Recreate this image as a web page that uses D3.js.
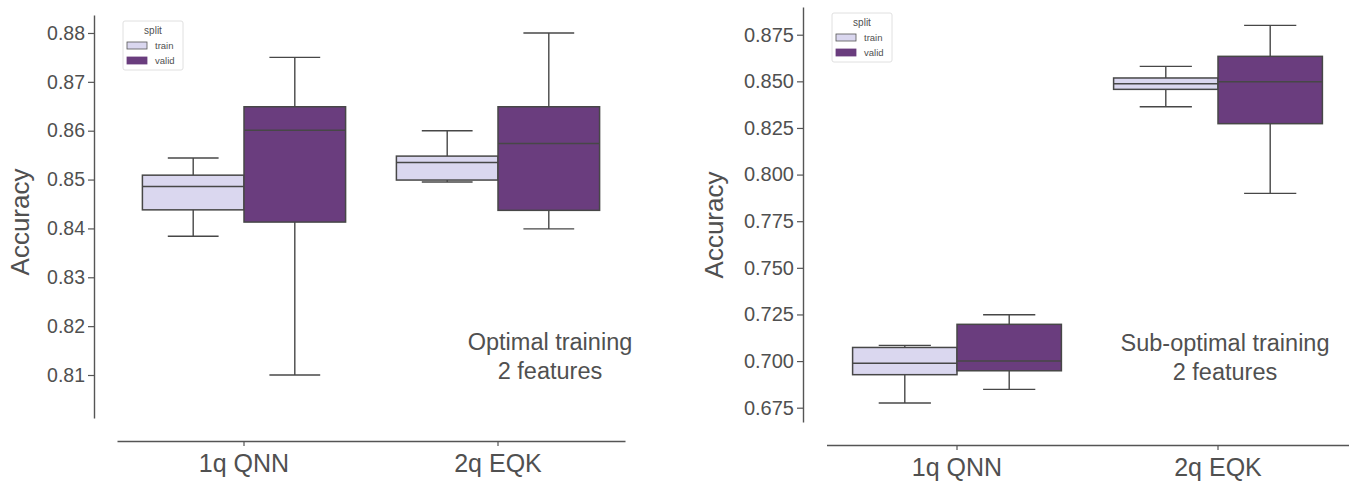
<!DOCTYPE html>
<html>
<head>
<meta charset="utf-8">
<script src="https://cdn.jsdelivr.net/npm/d3@7"></script>
<style>
  html, body { margin: 0; padding: 0; background: #fff; }
  svg text { font-family: "Liberation Sans", Arial, Helvetica, sans-serif; fill: #505050; }
</style>
</head>
<body>
<div id="chart"></div>
<script>
// box stats: [whisker low, Q1, median, Q3, whisker high]
const categories = ["1q QNN", "2q EQK"];
const splits = ["train", "valid"];

// Optimal training, 2 features
const optTrain = [
  [0.8384, 0.8438, 0.8486, 0.8509, 0.8544],
  [0.8495, 0.8499, 0.8535, 0.8548, 0.8600]
];
const optValid = [
  [0.8100, 0.8413, 0.8601, 0.8649, 0.8750],
  [0.8399, 0.8437, 0.8574, 0.8649, 0.8800]
];
const optTicks = [0.81, 0.82, 0.83, 0.84, 0.85, 0.86, 0.87, 0.88];

// Sub-optimal training, 2 features
const subTrain = [
  [0.6775, 0.6927, 0.6988, 0.7073, 0.7084],
  [0.8364, 0.8457, 0.8487, 0.8518, 0.8580]
];
const subValid = [
  [0.6848, 0.6948, 0.7000, 0.7197, 0.7248],
  [0.7899, 0.8273, 0.8498, 0.8634, 0.8800]
];
const subTicks = [0.675, 0.700, 0.725, 0.750, 0.775, 0.800, 0.825, 0.850, 0.875];

const colors = { train: "#dad7ef", valid: "#6a3d7e" };
const lineColor = "#474747";

const svg = d3.select("#chart").append("svg")
  .attr("width", 1354).attr("height", 487);

function drawPanel(p) {
  const g = svg.append("g");
  const y = d3.scaleLinear().domain(p.yDomain).range([p.yBottom, p.yTop]);
  const x = d3.scaleBand().domain(categories).range([p.xLeft, p.xRight]).paddingInner(0).paddingOuter(0);
  const inner = d3.scaleBand().domain(splits).range([0, x.bandwidth() * 0.8]);
  const off = x.bandwidth() * 0.1;

  // y axis
  const yAxis = g.append("g").attr("transform", `translate(${p.yAxisX},0)`)
    .call(d3.axisLeft(y).tickValues(p.ticks).tickFormat(d3.format(p.fmt))
      .tickSizeInner(6).tickSizeOuter(0).tickPadding(3));
  yAxis.select(".domain").attr("stroke", "#555").attr("stroke-width", 1.4);
  yAxis.selectAll(".tick line").attr("stroke", "#555").attr("stroke-width", 1.2);
  yAxis.selectAll(".tick text").attr("font-size", p.yTickSize).attr("fill", "#505050");

  // x axis
  const xAxis = g.append("g").attr("transform", `translate(0,${p.xAxisY})`)
    .call(d3.axisBottom(x).tickSizeInner(5).tickSizeOuter(0).tickPadding(8));
  xAxis.select(".domain").attr("stroke", "#555").attr("stroke-width", 1.4);
  xAxis.selectAll(".tick line").attr("stroke", "#555").attr("stroke-width", 1.2);
  xAxis.selectAll(".tick text").attr("font-size", 25).attr("fill", "#505050");

  // y label
  g.append("text")
    .attr("transform", `translate(${p.yLabelX},${p.yLabelY}) rotate(-90)`)
    .attr("text-anchor", "middle")
    .attr("font-size", 26)
    .text("Accuracy");

  const series = [["train", p.train], ["valid", p.valid]];
  series.forEach(([s, data]) => {
    const bw = inner.bandwidth();
    const grp = g.append("g").selectAll("g").data(data).join("g")
      .attr("transform", (d, i) => `translate(${x(categories[i]) + off + inner(s)},0)`);
    // whiskers
    grp.append("line").attr("x1", bw / 2).attr("x2", bw / 2)
      .attr("y1", d => y(d[3])).attr("y2", d => y(d[4]))
      .attr("stroke", lineColor).attr("stroke-width", 1.4);
    grp.append("line").attr("x1", bw / 2).attr("x2", bw / 2)
      .attr("y1", d => y(d[1])).attr("y2", d => y(d[0]))
      .attr("stroke", lineColor).attr("stroke-width", 1.4);
    grp.append("line").attr("x1", bw / 4).attr("x2", bw * 3 / 4)
      .attr("y1", d => y(d[4])).attr("y2", d => y(d[4]))
      .attr("stroke", lineColor).attr("stroke-width", 1.4);
    grp.append("line").attr("x1", bw / 4).attr("x2", bw * 3 / 4)
      .attr("y1", d => y(d[0])).attr("y2", d => y(d[0]))
      .attr("stroke", lineColor).attr("stroke-width", 1.4);
    // box
    grp.append("rect").attr("x", 0).attr("width", bw)
      .attr("y", d => y(d[3])).attr("height", d => y(d[1]) - y(d[3]))
      .attr("fill", colors[s]).attr("stroke", lineColor).attr("stroke-width", 1.5);
    // median
    grp.append("line").attr("x1", 0).attr("x2", bw)
      .attr("y1", d => y(d[2])).attr("y2", d => y(d[2]))
      .attr("stroke", lineColor).attr("stroke-width", 1.5);
  });

  // annotation
  const ann = g.append("text").attr("text-anchor", "middle").attr("font-size", 23.5);
  p.note.forEach((t, i) => {
    ann.append("tspan").attr("x", p.noteX).attr("y", p.noteY + i * 29).text(t);
  });

  // legend
  const lg = g.append("g").attr("transform", `translate(${p.legX},${p.legY})`);
  lg.append("rect").attr("width", 60).attr("height", 49).attr("rx", 2)
    .attr("fill", "#fff").attr("stroke", "#e0e0e0");
  lg.append("text").attr("x", 30).attr("y", 13).attr("text-anchor", "middle")
    .attr("font-size", 10).attr("fill", "#333").text("split");
  splits.forEach((s, i) => {
    lg.append("rect").attr("x", 4).attr("y", 21 + i * 15).attr("width", 20).attr("height", 7)
      .attr("fill", colors[s]).attr("stroke", s === "train" ? "#555" : colors[s]).attr("stroke-width", 0.8);
    lg.append("text").attr("x", 32).attr("y", 28 + i * 15)
      .attr("font-size", 9.5).attr("fill", "#333").text(s);
  });
}

drawPanel({
  train: optTrain, valid: optValid, ticks: optTicks, fmt: ".2f", yTickSize: 19.5,
  yDomain: [0.80120, 0.88368], yTop: 15, yBottom: 418,
  yAxisX: 94, xLeft: 117, xRight: 625, xAxisY: 441,
  yLabelX: 29, yLabelY: 222,
  note: ["Optimal training", "2 features"], noteX: 550, noteY: 350,
  legX: 123, legY: 21
});

drawPanel({
  train: subTrain, valid: subValid, ticks: subTicks, fmt: ".3f", yTickSize: 20,
  yDomain: [0.66733, 0.88986], yTop: 7, yBottom: 422,
  yAxisX: 803, xLeft: 826.5, xRight: 1348.5, xAxisY: 445,
  yLabelX: 723, yLabelY: 225,
  note: ["Sub-optimal training", "2 features"], noteX: 1225, noteY: 351,
  legX: 832, legY: 13
});
</script>
</body>
</html>
